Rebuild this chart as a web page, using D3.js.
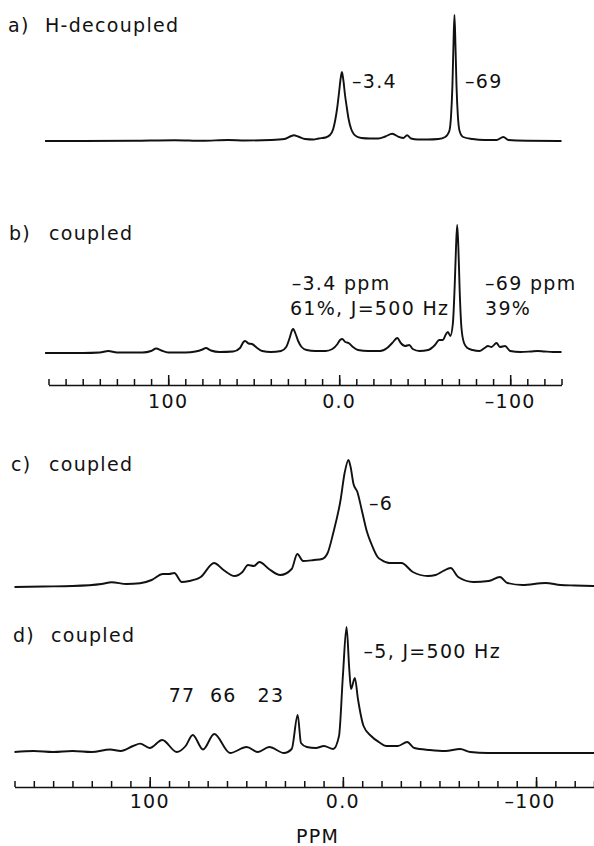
<!DOCTYPE html>
<html lang="en">
<head>
<meta charset="UTF-8">
<title>NMR spectra</title>
<script src="https://cdnjs.cloudflare.com/ajax/libs/d3/7.8.5/d3.min.js"></script>
<style>
    body { margin: 0; padding: 0; background: #fff; }
    svg { display: block; }
    text { font-family: "DejaVu Sans", sans-serif; font-size: 19px; letter-spacing: 1.3px; fill: #111; white-space: pre; }
    .trace { fill: none; stroke: #111; stroke-width: 1.9; stroke-linejoin: round; }
    .axis path, .axis line { stroke: #111; stroke-width: 1.5; }
</style>
</head>
<body>
<div id="chart"></div>
<script>
// spectra as [ppm, intensity]
const traceA = [
    [172, 0], [150, 0], [120, 0.3], [96, 0.8], [80, 0.2], [65, 1], [55, 0.5], [40, 1], [32, 2],
    [28, 5], [26.5, 5.7], [24, 4.5], [20, 2], [15, 1.5], [12, 2.5], [8, 3.5], [5.4, 6], [3.5, 12],
    [2.2, 22], [1.1, 34], [0, 50], [-0.8, 62], [-1.6, 69], [-2.5, 60], [-3.4, 46], [-4.4, 34],
    [-5.5, 22], [-7, 12], [-8.5, 7], [-10.2, 4.5], [-13, 3], [-18, 2.5], [-23, 2.5],
    [-27, 4.5], [-31, 7.3], [-35, 4], [-37.5, 3], [-39.7, 5.7], [-42, 2.5], [-46, 1.5], [-52, 1.5],
    [-58, 2], [-62, 4], [-64.4, 10], [-65.4, 25], [-66.2, 55], [-66.8, 95], [-67.4, 126],
    [-68, 95], [-68.6, 55], [-69.4, 25], [-70.4, 10], [-72.5, 4], [-78, 2], [-85, 1], [-92, 1],
    [-96, 4], [-99, 1], [-110, 0.3], [-130, 0]
];
const traceB = [
    [172, 0], [150, 0], [140, 0.5], [135, 2], [130, 0.5], [115, 0.5], [110, 2], [107, 4.5],
    [104, 2.5], [100, 0.5], [90, 0.5], [84, 1.5], [80, 3.5], [78, 5], [75, 2.5], [70, 1], [62, 1.5],
    [58, 5], [56, 11], [55, 12], [53, 9.5], [51, 9], [48, 5], [45, 2], [40, 1], [34, 2], [31, 6],
    [29, 15], [27.5, 23], [26.9, 24], [25.5, 19], [24, 12], [22, 6], [19, 3], [14, 2], [8, 2],
    [4, 4], [1, 9], [-0.5, 13], [-1.8, 14], [-3.5, 11], [-5.5, 10], [-8, 6], [-11, 3], [-17, 2],
    [-24, 2], [-28, 5], [-31, 10], [-34, 15], [-36, 10], [-38.5, 7], [-41, 8], [-43, 4], [-47, 2],
    [-52, 3], [-56, 8], [-58.5, 13], [-60.5, 13], [-62.5, 19], [-63.6, 21], [-65, 17], [-66.5, 30],
    [-67.6, 70], [-68.3, 105], [-69, 128], [-69.7, 105], [-70.5, 60], [-71.5, 25], [-73, 10],
    [-75, 5], [-78, 3], [-82, 2], [-85, 5], [-87, 7], [-89, 6], [-92, 10], [-94, 6], [-97, 7],
    [-100, 2], [-106, 1], [-112, 1.5], [-116, 2], [-120, 1.5], [-125, 1], [-130, 1]
];
const traceC = [
    [170, 0], [155, 0.5], [140, 1], [125, 3], [119.7, 4.7], [112, 3], [105, 3.7], [99, 7],
    [93.2, 13], [90, 13], [87.3, 14], [83.4, 5], [79.5, 6], [73.6, 10], [66.7, 24], [61.8, 17],
    [56, 11], [52, 15], [49.1, 22], [46.1, 21], [43.2, 25], [38.3, 18], [32.4, 12], [26.5, 18],
    [23.6, 33], [20.6, 26], [15, 27], [10.8, 28], [7.9, 34], [5, 54], [1.2, 87], [-0.9, 114],
    [-2.9, 127], [-4, 120], [-5.5, 103], [-7.5, 95], [-10, 75], [-12.5, 55], [-15, 42],
    [-18, 30], [-20, 27], [-24, 24], [-30.3, 24], [-36.2, 15], [-44, 11], [-48, 12], [-51.9, 16],
    [-55.8, 19], [-59.7, 10], [-67.6, 5], [-75.4, 6], [-81.3, 10], [-85.2, 4], [-93, 2],
    [-104.9, 4], [-112.7, 2], [-120, 1.5], [-130, 1]
];
const traceD = [
    [170, 0], [160, 1], [150, 0], [140, 1], [130, 0], [120.5, 2.5], [115, 1], [108.6, 6], [105, 8.4],
    [100, 4], [93.5, 12], [86, 0], [81.4, 6], [77.7, 17], [72.4, 2.5], [66.6, 18], [58.4, -1],
    [49.8, 5], [44, 0], [38.1, 5], [30.5, -1], [26.5, 3], [23.4, 37], [21.7, 9], [18.7, 5],
    [14, 4], [9.8, 6], [5, 3], [2, 16], [0, 76], [-1.9, 125], [-3.3, 83], [-4.2, 63], [-6.2, 74],
    [-7.8, 53], [-10.7, 26], [-14.6, 16], [-18.6, 10], [-22.5, 6], [-28.4, 6], [-33.3, 10],
    [-37, 4], [-45, 2], [-53, 1], [-60.7, 3], [-66, 0], [-75, -1], [-90, -1], [-105, -1],
    [-118, -1], [-130, -1]
];

const titles = ["a)", "b)", "c)", "d)"];
const titleNames = ["H-decoupled", "coupled", "coupled", "coupled"];

// annotations: [text, ppm, intensity]
const notesA = [["–3.4", -7.5, 53], ["–69", -73.6, 53]];
const notesB = [["–3.4 ppm", 27.8, 63], ["61%, J=500 Hz", 28.8, 38], ["–69 ppm", -85.3, 63], ["39%", -85.3, 38]];
const notesC = [["–6", -13.5, 77]];
const notesD = [["–5, J=500 Hz", -10.7, 94], ["77", 90.2, 50], ["66", 68.8, 50], ["23", 44.2, 50]];

const minorTicks = d3.range(170, -131, -10);
const majorTicks = [100, 0, -100];
const tickLabel = v => v === 0 ? "0.0" : (v < 0 ? "–" + Math.abs(v) : String(v));

const width = 594, height = 846;
const svg = d3.select("#chart").append("svg")
    .attr("width", width).attr("height", height);
svg.append("rect").attr("width", width).attr("height", height).attr("fill", "#fff");

const xTop = d3.scaleLinear().domain([170, -130]).range([48.5, 561.5]);
const xBot = d3.scaleLinear().domain([170, -130]).range([14.5, 594]);

const panels = [
    { data: traceA, notes: notesA, x: xTop, base: 141, titleY: 32, titleX: 8, nameX: 45, sw: 1.9 },
    { data: traceB, notes: notesB, x: xTop, base: 353, titleY: 240, titleX: 9, nameX: 49, sw: 1.9 },
    { data: traceC, notes: notesC, x: xBot, base: 587, titleY: 471, titleX: 11, nameX: 49, sw: 2.2 },
    { data: traceD, notes: notesD, x: xBot, base: 752, titleY: 642, titleX: 13, nameX: 51, sw: 2.6 }
];

panels.forEach((p, i) => {
    const y = d3.scaleLinear().domain([0, 130]).range([p.base, p.base - 130]);
    const line = d3.line()
        .x(d => p.x(d[0]))
        .y(d => y(d[1]))
        .curve(d3.curveMonotoneX);

    svg.append("path")
        .attr("class", "trace")
        .attr("stroke-width", p.sw)
        .attr("d", line(p.data));

    const t = svg.append("text").attr("y", p.titleY);
    t.append("tspan").attr("x", p.titleX).text(titles[i]);
    t.append("tspan").attr("x", p.nameX).text(titleNames[i]);

    svg.selectAll(null)
        .data(p.notes)
        .enter().append("text")
        .attr("x", d => p.x(d[1]))
        .attr("y", d => y(d[2]))
        .text(d => d[0]);
});

function drawAxis(x, yPos, labelY, negShift) {
    const g = svg.append("g").attr("class", "axis").attr("transform", `translate(0,${yPos})`);
    g.call(d3.axisTop(x).tickValues(minorTicks).tickSize(6).tickSizeOuter(0).tickFormat(""));
    g.append("g").call(d3.axisTop(x).tickValues(majorTicks).tickSize(10).tickSizeOuter(0).tickFormat(""))
        .select(".domain").remove();
    g.selectAll(".tick text").remove();

    svg.selectAll(null)
        .data(majorTicks)
        .enter().append("text")
        .attr("x", d => x(d) + (d < 0 ? negShift : 0))
        .attr("y", labelY)
        .attr("text-anchor", "middle")
        .text(tickLabel);
}

drawAxis(xTop, 385, 408, 0);
drawAxis(xBot, 787, 808, -6);

svg.append("text")
    .attr("x", xBot(0) - 47)
    .attr("y", 843)
    .text("PPM");
</script>
</body>
</html>
